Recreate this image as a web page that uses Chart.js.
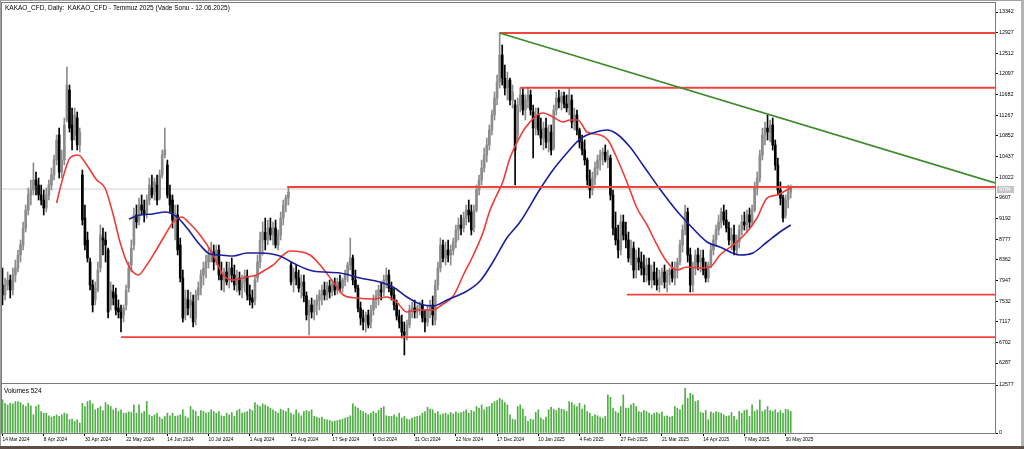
<!DOCTYPE html>
<html>
<head>
<meta charset="utf-8">
<title>KAKAO_CFD Daily</title>
<script src="https://cdn.jsdelivr.net/npm/chart.js"></script>
<style>
  body { margin: 0; background: #fff; }
  #frame { position: relative; width: 1024px; height: 449px; overflow: hidden; background: #fff; }
  #wrapA { position: absolute; left: 0; top: 0; }
  #wrapB { position: absolute; left: 0; top: 380px; }
  .lbl { position: absolute; font-family: 'Liberation Sans', Arial, sans-serif; font-size: 6.5px; line-height: 7px; color: #000; white-space: pre; }
  .edge { position: absolute; }
</style>
</head>
<body>
<div id="frame">
  <div id="wrapA"><canvas id="priceChart" width="1024" height="383"></canvas></div>
  <div id="wrapB"><canvas id="volChart" width="1024" height="64"></canvas></div>
  <div class="lbl" style="left:5px; top:4px;">KAKAO_CFD, Daily:  KAKAO_CFD - Temmuz 2025 (Vade Sonu - 12.06.2025)</div>
  <div class="lbl" style="left:4px; top:387px;">Volumes 524</div>
  <div class="edge" style="left:0; top:0; width:1px; height:449px; background:#a0a0a0;"></div>
  <div class="edge" style="left:0; top:0; width:1024px; height:1px; background:#a0a0a0;"></div>
  <div class="edge" style="left:1021px; top:0; width:3px; height:449px; background:#b4b4b4;"></div>
  <div class="edge" style="left:0; top:446px; width:1024px; height:3px; background:#5e5046;"></div>
</div>

<script>
// etiquetas de fecha (eje inferior) y su posicion en barras
var dateLabels = ['14 Mar 2024', '8 Apr 2024', '30 Apr 2024', '22 May 2024', '14 Jun 2024', '10 Jul 2024',
  '1 Aug 2024', '23 Aug 2024', '17 Sep 2024', '9 Oct 2024', '31 Oct 2024', '22 Nov 2024', '17 Dec 2024',
  '10 Jan 2025', '4 Feb 2025', '27 Feb 2025', '21 Mar 2025', '14 Apr 2025', '7 May 2025', '30 May 2025'];
var dateTickAt = [0, 16, 32, 48, 64, 80, 96, 112, 128, 144, 160, 176, 192, 208, 224, 240, 256, 272, 288, 304];

// escala de precios
var priceTicks = [13342, 12927, 12512, 12097, 11682, 11267, 10852, 10437, 10022, 9607, 9192, 8777, 8362, 7947, 7532, 7117, 6702, 6287];
var volumeTicks = [0, 12577];

// velas diarias
var opens = [7855,7654,7855,7955,7754,8056,8196,8458,8659,9000,
9362,9664,9764,9965,9865,9664,9563,9402,9664,9865,
10066,10367,10870,10126,10367,11171,11774,11071,10870,11211,
10669,10066,9201,8759,8317,7855,7553,7754,8196,8799,
8759,8558,7453,7714,7654,7392,7312,7252,7453,7794,
8257,8659,9262,9161,9463,9362,9322,9563,9804,9724,
9865,9603,10066,10468,10267,9664,9563,9161,9262,8659,
7995,7252,7553,7453,7513,7191,7654,7794,8056,8196,
8317,8458,8518,8357,8558,8056,7955,8116,7955,8196,
8056,7855,7995,7794,7915,8036,7654,7593,7553,7995,
8317,8759,8920,8759,9000,8860,9000,8659,8860,9201,
9463,9603,8257,7955,8116,7995,7834,7915,7634,7252,
7453,7312,7453,7553,7654,7754,7654,7834,7714,7875,
7754,7915,7794,7955,8056,8257,8397,7955,7794,7392,
7191,7111,7252,7111,7352,7553,7634,7754,7714,7955,
8056,7794,7654,7453,7232,7111,6910,6850,7051,7352,
7392,7312,7392,7453,7191,7111,7352,7453,7151,7855,
8196,8659,8397,8558,8458,8558,8719,8960,9061,9000,
9201,9362,9322,9000,9362,9764,9965,10206,10468,10669,
10970,11272,11613,11935,12477,12015,11814,11975,11573,11473,
10870,11473,11674,11372,11573,11674,11332,11010,11272,10970,
10809,11010,10729,10930,10608,11372,11613,11533,11653,11493,
11412,11573,11131,11272,10970,10729,10568,10367,9965,9764,
10005,10206,10367,10468,10528,10367,10407,9664,9000,8759,
8558,9121,8860,8759,8397,8598,8156,8397,8317,8196,
8056,8257,7955,8116,7955,7855,7995,8116,7915,8056,
8156,7995,8196,8317,8659,8960,9322,8458,7855,8196,
8458,8317,8397,8196,7995,8257,8558,8759,8960,9121,
9322,9161,9000,8759,8860,8558,8719,8960,9121,9061,
9262,9121,9362,9804,10005,10468,10870,11010,10930,11071,
10669,10267,9764,9603,9262,9563,9724];

var highs = [8196,7995,8116,8056,8196,8357,8558,8759,9121,9463,
9804,9965,10307,10126,10005,9865,9764,9804,9965,10206,
10468,10870,11010,10568,11211,12236,11875,11412,11412,11332,
11010,10166,9463,8920,8397,7955,7915,8317,9061,9000,
8920,8598,7915,7855,7794,7553,7453,7453,7855,8317,
8759,9402,9463,9603,9664,9563,9664,10005,10066,10005,
10066,10166,10568,11010,10367,9865,9664,9463,9463,8799,
8156,7754,7754,7714,7654,7754,7915,8156,8317,8458,
8598,8719,8659,8659,8659,8317,8196,8317,8317,8397,
8257,8156,8116,8056,8156,8156,7855,7754,8056,8458,
8920,9121,9201,9161,9201,9121,9161,8960,9322,9563,
9664,9804,8317,8196,8257,8156,8056,8056,7714,7553,
7593,7553,7654,7754,7855,7915,7915,7955,7955,7995,
7995,8056,7995,8156,8317,8799,8458,8156,7855,7513,
7352,7312,7352,7453,7654,7754,7855,7915,8056,8196,
8156,7915,7794,7553,7352,7252,7111,7151,7453,7513,
7553,7453,7513,7553,7352,7453,7553,7634,7955,8317,
8799,8759,8719,8759,8659,8799,9061,9201,9262,9322,
9463,9563,9463,9463,9865,10066,10367,10608,10809,11071,
11372,11734,12076,12920,12679,12276,12136,12015,11875,11573,
11613,11814,11814,11674,11834,11774,11473,11412,11412,11211,
11131,11211,11071,11071,11473,11734,11774,11734,11734,11674,
11814,11674,11412,11372,11010,10870,10769,10407,10166,10126,
10327,10468,10568,10608,10669,10568,10468,9764,9322,9061,
9262,9262,9121,8920,8759,8719,8558,8598,8518,8458,
8397,8397,8257,8317,8196,8156,8196,8257,8156,8196,
8317,8317,8397,8759,9061,9463,9402,8598,8317,8558,
8598,8558,8558,8317,8317,8659,8860,9061,9262,9402,
9463,9362,9121,9000,9061,8860,9061,9262,9322,9362,
9402,9463,9925,10126,10568,11010,11131,11272,11171,11211,
10769,10407,9925,9664,9664,9865,9865];

var lows = [7453,7553,7754,7593,7654,7915,8116,8317,8558,8920,
9262,9463,9664,9664,9563,9463,9262,9322,9563,9764,
9965,10267,10005,10005,10267,11131,10930,10568,10769,10568,
10528,9061,8558,8317,7754,7312,7453,7714,8116,8458,
8317,7191,7352,7453,7252,7191,6910,7111,7352,7714,
8116,8558,9000,9061,9262,9121,9201,9463,9603,9563,
9463,9563,10005,10407,9603,9322,9000,8759,8458,7915,
7111,7151,7252,7191,7010,7051,7553,7654,7855,7995,
8196,8317,8156,8257,7955,7754,7714,7855,7794,7915,
7754,7714,7654,7593,7714,7553,7453,7392,7453,7915,
8196,8458,8558,8659,8759,8659,8598,8558,8759,9061,
9322,9463,7855,7714,7855,7714,7593,7513,7151,6850,
7191,7151,7252,7352,7453,7553,7553,7593,7634,7654,
7674,7714,7714,7834,7915,8156,7855,7714,7312,7051,
6950,6910,6990,6990,7252,7392,7453,7553,7634,7794,
7714,7553,7352,7151,6990,6789,6448,6749,6990,7191,
7191,7191,7252,7111,6910,7031,7191,7051,7051,7754,
8116,8317,8257,8317,8257,8458,8598,8759,8860,8920,
9061,9121,8860,8920,9322,9664,9865,10126,10327,10568,
10870,11171,11473,11814,11875,11674,11573,11473,11412,9865,
10769,11332,11272,11171,11412,11272,10407,10870,10870,10669,
10568,10608,10528,10468,10568,11272,11412,11372,11412,11332,
11272,11010,10970,10870,10608,10468,10267,9865,9603,9664,
9865,10066,10166,10267,10327,10206,9563,8860,8659,8397,
8458,8759,8598,8317,8257,7995,7995,8156,8056,7915,
7915,7855,7794,7855,7754,7714,7855,7794,7714,7855,
7915,7855,7995,8257,8518,8860,8317,7714,7714,8056,
8156,8116,8056,7915,7915,8196,8458,8659,8860,9000,
9061,8920,8659,8558,8458,8458,8598,8860,8960,8920,
9000,9041,9322,9664,9925,10367,10669,10769,10729,10568,
10166,9664,9463,9121,9201,9402,9603];

var closes = [7654,7855,7955,7754,8056,8196,8458,8659,9000,9362,
9664,9764,9965,9865,9664,9563,9402,9664,9865,10066,
10367,10769,10126,10367,11071,11875,11010,10769,11272,10669,
10930,9161,8659,8397,7855,7453,7794,8156,8860,8759,
8659,7312,7754,7593,7352,7312,7191,7392,7754,8196,
8598,9262,9121,9463,9362,9262,9563,9865,9664,9925,
9563,10066,10468,10568,9664,9463,9161,9322,8558,7995,
7191,7593,7392,7553,7111,7654,7794,8056,8196,8317,
8458,8558,8317,8558,8056,7955,8116,7915,8196,8056,
7855,7995,7754,7915,8036,7654,7553,7513,7955,8317,
8759,8920,8759,9000,8860,9000,8659,8860,9201,9463,
9603,9724,7915,8116,7995,7794,7915,7634,7252,7453,
7312,7453,7553,7654,7754,7654,7834,7714,7875,7754,
7915,7794,7955,8056,8257,8397,7955,7794,7392,7191,
7111,7252,7051,7352,7553,7634,7754,7714,7955,8056,
7794,7654,7453,7232,7111,6910,6850,7051,7352,7392,
7312,7392,7453,7191,7111,7352,7453,7252,7855,8196,
8659,8397,8558,8458,8558,8719,8960,9061,9000,9201,
9362,9262,8960,9362,9764,9965,10206,10468,10669,10970,
11272,11613,11935,12477,12015,11814,11975,11573,11734,10568,
11473,11674,11372,11573,11674,11372,11010,11272,10970,10809,
11010,10729,10930,10568,11372,11613,11533,11653,11493,11412,
11674,11131,11272,10970,10729,10568,10367,9965,9764,10005,
10206,10367,10468,10528,10367,10447,9664,9000,8759,8558,
9121,8860,8759,8397,8598,8156,8397,8317,8196,8056,
8257,7955,8116,7955,7855,7995,8116,7915,8056,8156,
7995,8196,8317,8659,8960,9322,8458,7855,8196,8458,
8317,8397,8156,7995,8257,8558,8759,8960,9121,9322,
9161,9000,8759,8860,8558,8719,8960,9121,9061,9262,
9121,9362,9804,10005,10468,10870,11010,10930,11071,10669,
10267,9764,9603,9201,9563,9724,9804];

var volumes = [8670,7800,7370,7800,7630,8240,8240,7980,7370,6940,
7800,7110,4770,6940,7370,5640,5200,5200,4510,4160,
4340,4770,4340,4770,5200,5030,3470,3640,3030,3470,
2600,7800,6940,8240,8500,7630,6070,6500,6940,5900,
7980,7370,6940,6070,6500,5640,6070,5200,5200,5550,
5380,7370,5200,7370,5200,5640,8240,4770,4340,4770,
5200,4160,3640,4340,5200,4510,5200,4340,4510,4770,
6070,4340,3900,6940,6070,5640,4340,5900,5640,5200,
5380,6070,5640,5200,5640,4510,4340,5200,4770,5380,
4340,5900,6240,5200,5380,5640,6240,5900,7980,7370,
6940,7630,7370,6940,6500,6070,5640,5200,6240,5900,
5640,6500,5200,4770,6070,5200,4510,5640,5900,5640,
6070,4340,4160,3900,4160,3640,3470,3290,3030,3120,
3290,3470,3640,3900,4160,4510,7630,6940,6500,5900,
5640,5200,4770,5200,5640,5200,5900,6500,6940,4510,
4340,4340,4770,4160,5200,3900,4340,3640,3470,3900,
4160,4340,4510,5200,5640,6760,6240,6070,5200,5640,
4770,5030,5200,4770,5380,5030,5550,5200,5380,5640,
6070,5200,5900,5640,6940,6500,7370,6070,6760,6940,
7800,8240,8500,9100,8670,7980,7370,4770,3640,3470,
6940,7370,6240,4340,3030,3640,3470,5380,6070,3900,
3470,4160,6070,6760,6240,5900,6500,6240,6070,5640,
8240,7980,7370,6940,7800,6240,7370,5640,5200,4340,
4770,4510,4160,3900,4340,9970,9360,6500,5640,5200,
6940,9970,6500,6500,7370,7800,6940,5640,5380,5900,
5640,5200,4770,5200,5380,5030,5550,4340,4510,4160,
4340,6940,6500,6070,7370,11700,9100,10400,9970,8240,
8500,5380,5200,5900,3470,5550,5200,5640,5380,5200,
4770,4340,4510,5380,4340,3470,5640,5200,5900,6070,
4340,7370,5640,6070,8670,5640,6070,6940,5900,5640,
6070,5380,5900,5200,6240,6070,5640];

// medias moviles (posicion en barras y valor)
var redMaAt = [21,23,26.2,29.4,32.7,36.6,39.8,43,45.6,48.8,52.7,56,59.2,63.1,66.3,69.6,72.1,76.7,81.8,85.7,
  89.6,94.8,98.7,101.9,105.1,109,111.6,119.4,123.3,128.4,132.3,137.5,144,149.1,153,156.9,160.8,167.2,170.5,175,
  178.9,182.8,186.6,189,191.5,194.2,197,200.8,203.5,209.8,213.7,217.6,220.3,223.4,226.9,232,235,238.5,242.4,246.3,
  250.2,254.1,258,261.8,265.7,270.8,274.7,278.5,283.6,289,292.9,296.8,300.7,304.5,306];
var redMa = [9503,9925,10407,10468,10267,9965,9804,9262,8719,8257,8056,8257,8518,8860,9121,9222,9121,8860,8458,8056,
  7955,8015,8056,8156,8257,8458,8538,8458,8257,7915,7654,7593,7573,7613,7513,7312,7352,7352,7453,7634,
  8056,8458,8920,9322,9623,9925,10407,10829,11050,11312,11231,11131,11171,11171,10930,10870,10769,10407,9925,9402,
  9061,8659,8317,8156,8216,8196,8216,8458,8659,8920,9201,9603,9664,9764,9804];
var blueMaAt = [49.1,53.4,58.4,63.1,67.7,71.6,76.7,80.5,84.4,89.5,94.9,100,107.7,112.8,120.5,131,138.8,146.5,151.6,157,
  162.1,167.1,172.6,180.3,185.4,190.4,195.8,200.9,208.7,213.7,219.1,224.2,229.2,234.7,238.5,243.6,248.6,255.2,261.8,265.7,
  273.5,278.5,286.3,291.3,296.8,301.8,306];
var blueMa = [9181,9262,9282,9322,9222,9000,8659,8478,8458,8438,8498,8498,8438,8297,8136,8096,7995,7915,7814,7613,
  7473,7432,7553,7734,7935,8317,8799,9121,9784,10166,10508,10789,10910,10970,10890,10628,10267,9784,9342,9121,
  8719,8618,8458,8498,8719,8920,9061];

// niveles horizontales, linea de tendencia y ultimo precio
var levelPrices = [12920, 11820, 9825, 7660, 6809];
var levelFrom = [193, 201, 110.5, 242.4, 46];
var trendStart = [193, 12920];
var trendEnd = [385.3, 9905];
var lastPrice = 9784;

var X_MIN = -0.2, X_MAX = 385.3;
var tickFont = { family: "'Liberation Sans', Arial, sans-serif", size: 5.3 };

var idx = opens.map(function (v, i) { return i; });
var candleColors = closes.map(function (c, i) { return c >= opens[i] ? '#8c8c8c' : '#000000'; });

function pairs(xs, ys) {
  return xs.map(function (x, i) { return { x: x, y: ys[i] }; });
}

// marco del area del grafico
var panelFrame = {
  id: 'panelFrame',
  afterDraw: function (chart) {
    var a = chart.chartArea, c = chart.ctx;
    c.save();
    c.strokeStyle = '#7a7a7a';
    c.lineWidth = 1;
    c.strokeRect(Math.round(a.left) - 0.5, Math.round(a.top) - 0.5, Math.round(a.right - a.left) + 1, Math.round(a.bottom - a.top) + 1);
    c.restore();
  }
};

// etiqueta gris del ultimo precio en el eje
var lastPriceTag = {
  id: 'lastPriceTag',
  afterDraw: function (chart) {
    var y = chart.scales.y.getPixelForValue(lastPrice), c = chart.ctx;
    c.save();
    c.fillStyle = '#c4c4c4';
    c.fillRect(997, Math.round(y) - 3, 17, 7);
    c.fillStyle = '#ffffff';
    c.font = "5.3px 'Liberation Sans', Arial, sans-serif";
    c.textBaseline = 'middle';
    c.fillText(String(lastPrice), 999, Math.round(y) + 0.5);
    c.restore();
  }
};

var lineBase = { type: 'line', pointRadius: 0, fill: false };

var datasets = [
  Object.assign({}, lineBase, { data: [{ x: X_MIN, y: lastPrice }, { x: X_MAX, y: lastPrice }], borderColor: '#cfcfcf', borderWidth: 1, order: 20 }),
  { type: 'bar', data: idx.map(function (i) { return { x: i, y: [lows[i], highs[i]] }; }), backgroundColor: candleColors, barThickness: 1, grouped: false, order: 19 },
  { type: 'bar', data: idx.map(function (i) { return { x: i, y: [opens[i], closes[i]] }; }), backgroundColor: candleColors, barThickness: 2, minBarLength: 1, grouped: false, order: 18 },
  Object.assign({}, lineBase, { data: pairs(redMaAt, redMa), borderColor: '#ee3b35', borderWidth: 1.6, cubicInterpolationMode: 'monotone', order: 5 }),
  Object.assign({}, lineBase, { data: pairs(blueMaAt, blueMa), borderColor: '#1c1f9c', borderWidth: 1.6, cubicInterpolationMode: 'monotone', order: 4 })
];
levelPrices.forEach(function (p, k) {
  datasets.push(Object.assign({}, lineBase, { data: [{ x: levelFrom[k], y: p }, { x: X_MAX, y: p }], borderColor: '#f0453c', borderWidth: 1.8, order: 3 }));
});
datasets.push(Object.assign({}, lineBase, { data: [{ x: trendStart[0], y: trendStart[1] }, { x: trendEnd[0], y: trendEnd[1] }], borderColor: '#3d8a2a', borderWidth: 1.8, order: 2 }));

new Chart(document.getElementById('priceChart').getContext('2d'), {
  type: 'bar',
  data: { datasets: datasets },
  options: {
    responsive: false,
    animation: false,
    devicePixelRatio: 1,
    events: [],
    layout: { padding: { left: 2, top: 3, right: 0, bottom: 0 } },
    plugins: { legend: { display: false }, tooltip: { enabled: false } },
    scales: {
      x: { type: 'linear', min: X_MIN, max: X_MAX, offset: false, display: false },
      y: {
        position: 'right', min: 5885, max: 13523,
        afterFit: function (s) { s.width = 29; s.paddingTop = 0; s.paddingBottom = 0; },
        afterBuildTicks: function (s) { s.ticks = priceTicks.map(function (v) { return { value: v }; }); },
        grid: { drawOnChartArea: false, drawTicks: true, tickLength: 3, color: '#000' },
        border: { display: false },
        ticks: { font: tickFont, color: '#000', padding: 1, callback: function (v) { return String(v); } }
      }
    }
  },
  plugins: [panelFrame, lastPriceTag]
});

new Chart(document.getElementById('volChart').getContext('2d'), {
  type: 'bar',
  data: {
    datasets: [{
      data: idx.map(function (i) { return { x: i, y: volumes[i] }; }),
      backgroundColor: '#4fae44', barThickness: 1, grouped: false
    }]
  },
  options: {
    responsive: false,
    animation: false,
    devicePixelRatio: 1,
    events: [],
    layout: { padding: { left: 2, top: 4, right: 0, bottom: 0 } },
    plugins: { legend: { display: false }, tooltip: { enabled: false } },
    scales: {
      x: {
        type: 'linear', min: X_MIN, max: X_MAX, offset: false, position: 'bottom',
        afterFit: function (s) { s.height = 11; s.paddingLeft = 0; s.paddingRight = 0; },
        afterBuildTicks: function (s) { s.ticks = dateTickAt.map(function (v) { return { value: v }; }); },
        grid: { drawOnChartArea: false, drawTicks: true, tickLength: 3, color: '#000', offset: false },
        border: { display: false },
        ticks: {
          align: 'start', autoSkip: false, maxRotation: 0, padding: 1, color: '#000',
          font: { family: tickFont.family, size: 4.8 },
          callback: function (v) { return dateLabels[dateTickAt.indexOf(v)]; }
        }
      },
      y: {
        position: 'right', min: 0, max: 12840,
        afterFit: function (s) { s.width = 29; s.paddingTop = 0; s.paddingBottom = 0; },
        afterBuildTicks: function (s) { s.ticks = volumeTicks.map(function (v) { return { value: v }; }); },
        grid: { drawOnChartArea: false, drawTicks: true, tickLength: 3, color: '#000' },
        border: { display: false },
        ticks: { font: tickFont, color: '#000', padding: 1, callback: function (v) { return String(v); } }
      }
    }
  },
  plugins: [panelFrame]
});
</script>
</body>
</html>
